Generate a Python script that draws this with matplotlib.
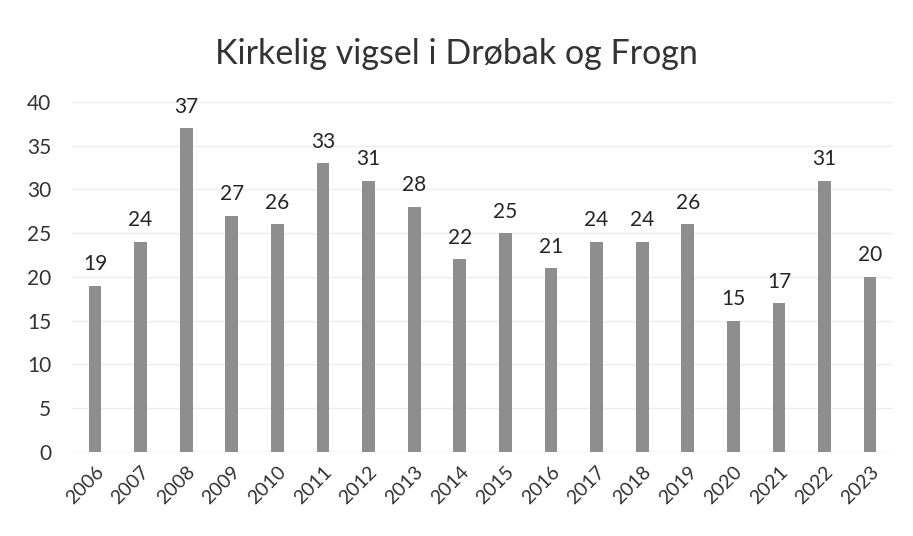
import matplotlib
matplotlib.use("Agg")
import matplotlib.pyplot as plt

plt.rcParams['font.family'] = ['Lato', 'DejaVu Sans']

title = "Kirkelig vigsel i Drøbak og Frogn"
years = ["2006", "2007", "2008", "2009", "2010", "2011", "2012", "2013", "2014",
         "2015", "2016", "2017", "2018", "2019", "2020", "2021", "2022", "2023"]
values = [19, 24, 37, 27, 26, 33, 31, 28, 22, 25, 21, 24, 24, 26, 15, 17, 31, 20]
yticks = [0, 5, 10, 15, 20, 25, 30, 35, 40]

fig = plt.figure(figsize=(9.13, 5.36), dpi=100)
ax = fig.add_axes([0.079, 0.157, 0.899, 0.653])
x = list(range(len(years)))
bars = ax.bar(x, values, width=0.28, color="#8e8e8e", zorder=2)
for xi, v in zip(x, values):
    ax.text(xi, v + 1.3, str(v), ha="center", va="bottom", fontsize=15, color="#262626")
ax.set_xlim(-0.5, len(years) - 0.5)
ax.set_ylim(0, 40)
ax.set_yticks(yticks)
ax.set_yticklabels([str(t) for t in yticks], fontsize=15, color="#333333")
ax.set_xticks(x)
ax.set_xticklabels(years, rotation=45, ha="right", rotation_mode="anchor", fontsize=14, color="#333333")
ax.tick_params(axis="y", length=0, pad=15)
ax.tick_params(axis="x", length=0, pad=8)
ax.grid(axis="y", color="#ececec", linewidth=1, zorder=0)
for s in ax.spines.values():
    s.set_visible(False)
ax.axhline(0, color="#e0e0e0", linewidth=1, zorder=1)
fig.text(0.5, 0.9, title, ha="center", va="center", fontsize=24.5, color="#333333")
fig.savefig("out.png", dpi=100)
